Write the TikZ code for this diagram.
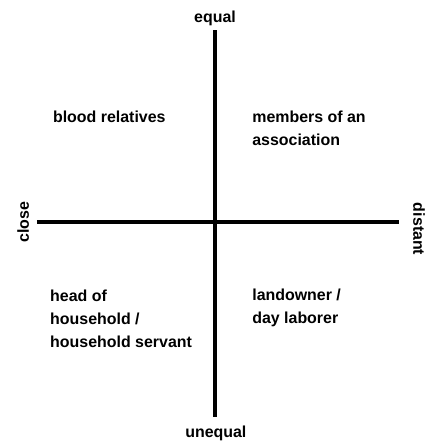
\documentclass[tikz,border=0pt]{standalone}
\usepackage{fontspec}
\setmainfont{Liberation Sans}
\usetikzlibrary{positioning}

\begin{document}
\begin{tikzpicture}[
  font=\fontsize{16}{23}\selectfont\bfseries,
  ax/.style={line width=3.2pt},
  lbl/.style={inner sep=0pt, align=left, anchor=west},
  pole/.style={inner sep=0pt}
]
\useasboundingbox (-7.585,-7.761) rectangle (7.479,7.832);

% ================= axes =================
\coordinate (up)    at ( 0.00, 6.77);
\coordinate (down)  at ( 0.00,-6.88);
\coordinate (lft)   at (-6.28, 0.00);
\coordinate (rgt)   at ( 6.49, 0.00);
\draw[ax] (up)  -- (down);
\draw[ax] (lft) -- (rgt);

% ================= poles =================
\node[pole] (eq)   at ( 0.00, 7.20) {equal};
\node[pole] (uneq) at ( 0.03,-7.44) {unequal};
\node[pole, rotate=90]  (cl)   at (-6.77, 0.00) {close};
\node[pole, rotate=-90] (dist) at ( 7.20,-0.25) {distant};

% ================= quadrants =================
\node[lbl] (blood) at (-5.72, 3.70) {blood relatives};
\node[lbl] (assoc) at ( 1.31, 3.30) {members of an\\association};
\node[lbl] (house) at (-5.82,-3.42) {head of\\household /\\household servant};
\node[lbl] (land)  at ( 1.31,-3.02) {landowner /\\day laborer};
\end{tikzpicture}
\end{document}
